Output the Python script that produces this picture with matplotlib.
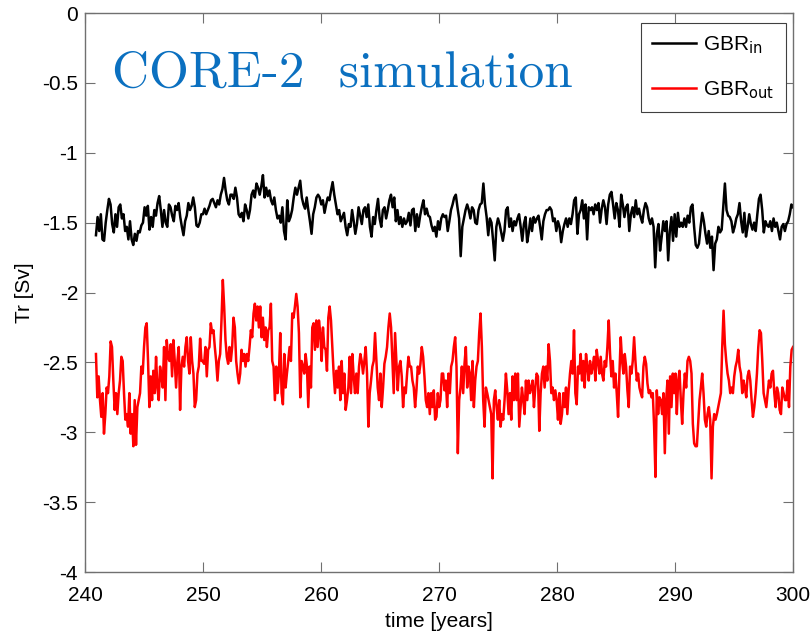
import numpy as np
import matplotlib
matplotlib.use("Agg")
import matplotlib.pyplot as plt

# Data (monthly-ish samples from year ~241 to 300)
t_start, t_end = 240.93, 300.0

gbr_in = [
    # 241-250
    -1.59, -1.46, -1.56, -1.44, -1.62, -1.63, -1.50, -1.41, -1.33, -1.37, -1.51, -1.57, -1.44,
    -1.53, -1.39, -1.37, -1.47, -1.44, -1.56, -1.53, -1.62, -1.49, -1.62, -1.66, -1.58, -1.63,
    -1.56, -1.57, -1.52, -1.50, -1.39, -1.45, -1.38, -1.55, -1.46, -1.53, -1.41, -1.45, -1.36,
    -1.31, -1.41, -1.53, -1.41, -1.50, -1.53, -1.37, -1.39, -1.45, -1.49, -1.38, -1.41, -1.36,
    -1.46, -1.53, -1.59, -1.49, -1.45, -1.36, -1.41, -1.38, -1.32, -1.39, -1.52, -1.53, -1.50,
    -1.44,
    # 250-259
    -1.44, -1.40, -1.44, -1.41, -1.38, -1.34, -1.33, -1.36, -1.39, -1.34, -1.37, -1.30, -1.26,
    -1.18, -1.27, -1.34, -1.37, -1.30, -1.30, -1.33, -1.25, -1.32, -1.44, -1.46, -1.43, -1.49,
    -1.37, -1.41, -1.47, -1.41, -1.30, -1.27, -1.32, -1.22, -1.25, -1.30, -1.24, -1.16, -1.32,
    -1.25, -1.31, -1.27, -1.34, -1.37, -1.32, -1.41, -1.47, -1.45, -1.50, -1.39, -1.56, -1.62,
    -1.34, -1.49, -1.46, -1.41, -1.32, -1.25, -1.30, -1.25, -1.20, -1.32, -1.37, -1.40, -1.32,
    -1.41, -1.49, -1.58, -1.44, -1.39, -1.32, -1.30,
    # 259-269
    -1.32, -1.37, -1.34, -1.43, -1.37, -1.32, -1.34, -1.27, -1.21, -1.30, -1.37, -1.44, -1.41,
    -1.49, -1.46, -1.43, -1.53, -1.59, -1.51, -1.53, -1.41, -1.49, -1.58, -1.51, -1.39, -1.45,
    -1.51, -1.41, -1.39, -1.46, -1.37, -1.53, -1.60, -1.46, -1.51, -1.41, -1.33, -1.47, -1.53,
    -1.41, -1.39, -1.47, -1.41, -1.34, -1.30, -1.39, -1.32, -1.49, -1.41, -1.51, -1.46, -1.53,
    -1.47, -1.51, -1.49, -1.43, -1.52, -1.41, -1.40, -1.56, -1.44, -1.53, -1.45, -1.39, -1.34,
    -1.44, -1.40, -1.45, -1.46, -1.52,
    # 269-279
    -1.56, -1.53, -1.60, -1.49, -1.55, -1.47, -1.44, -1.46, -1.45, -1.56, -1.49, -1.41, -1.37,
    -1.32, -1.30, -1.39, -1.47, -1.74, -1.53, -1.47, -1.41, -1.37, -1.41, -1.47, -1.39, -1.41,
    -1.50, -1.51, -1.41, -1.37, -1.36, -1.22, -1.37, -1.46, -1.59, -1.47, -1.50, -1.63, -1.77,
    -1.53, -1.47, -1.51, -1.57, -1.63, -1.56, -1.41, -1.39, -1.53, -1.47, -1.56, -1.49, -1.52,
    -1.47, -1.44, -1.53, -1.63, -1.51, -1.46, -1.64, -1.57, -1.47, -1.56, -1.46, -1.50, -1.47,
    -1.45, -1.53, -1.62, -1.49, -1.44, -1.41,
    # 279-289
    -1.41, -1.39, -1.41, -1.49, -1.47, -1.56, -1.49, -1.53, -1.64, -1.56, -1.51, -1.47, -1.53,
    -1.47, -1.51, -1.44, -1.34, -1.32, -1.58, -1.44, -1.41, -1.34, -1.47, -1.37, -1.62, -1.39,
    -1.41, -1.39, -1.44, -1.37, -1.41, -1.36, -1.50, -1.40, -1.34, -1.39, -1.51, -1.37, -1.30,
    -1.28, -1.37, -1.47, -1.36, -1.41, -1.53, -1.30, -1.37, -1.46, -1.39, -1.37, -1.56, -1.44,
    -1.39, -1.46, -1.34, -1.44, -1.40, -1.46, -1.50, -1.41, -1.36, -1.39, -1.47, -1.51, -1.47,
    -1.53, -1.82, -1.58, -1.51, -1.70, -1.60,
    # 289-300
    -1.49, -1.56, -1.49, -1.77, -1.56, -1.46, -1.63, -1.44, -1.60, -1.43, -1.53, -1.50, -1.53,
    -1.47, -1.53, -1.45, -1.50, -1.39, -1.37, -1.53, -1.66, -1.68, -1.65, -1.53, -1.43, -1.49,
    -1.58, -1.65, -1.56, -1.68, -1.60, -1.84, -1.65, -1.62, -1.53, -1.57, -1.55, -1.38, -1.22,
    -1.41, -1.45, -1.46, -1.49, -1.57, -1.53, -1.47, -1.44, -1.36, -1.49, -1.57, -1.43, -1.60,
    -1.53, -1.44, -1.51, -1.55, -1.50, -1.56, -1.44, -1.33, -1.30, -1.41, -1.57, -1.49, -1.52,
    -1.53, -1.49, -1.56, -1.47, -1.53, -1.50, -1.56, -1.62, -1.53, -1.51, -1.56, -1.51, -1.49,
    -1.44, -1.37, -1.39,
]

gbr_out = [
    # 241-250
    -2.44, -2.75, -2.60, -2.77, -2.89, -2.72, -3.01, -2.87, -2.68, -2.72, -2.60, -2.35, -2.39,
    -2.63, -2.84, -2.72, -2.87, -2.72, -2.63, -2.46, -2.49, -2.72, -2.91, -2.87, -2.96, -2.72,
    -3.01, -2.87, -3.10, -2.77, -3.09, -2.82, -2.77, -2.72, -2.53, -2.58, -2.39, -2.25, -2.22,
    -2.49, -2.82, -2.60, -2.77, -2.56, -2.72, -2.46, -2.68, -2.77, -2.53, -2.60, -2.68, -2.39,
    -2.77, -2.34, -2.46, -2.49, -2.37, -2.60, -2.34, -2.49, -2.68, -2.49, -2.39, -2.84, -2.53,
    -2.46, -2.53, -2.39, -2.32, -2.49, -2.58, -2.32, -2.49, -2.58, -2.82, -2.77, -2.58, -2.53,
    -2.33, -2.49,
    # 250-259
    -2.49, -2.51, -2.39, -2.60, -2.41, -2.39, -2.22, -2.29, -2.27, -2.39, -2.49, -2.63, -2.49,
    -2.44, -2.20, -1.91, -2.10, -2.34, -2.46, -2.51, -2.39, -2.49, -2.39, -2.18, -2.25, -2.49,
    -2.58, -2.65, -2.58, -2.41, -2.49, -2.44, -2.53, -2.44, -2.49, -2.39, -2.27, -2.32, -2.15,
    -2.08, -2.20, -2.10, -2.25, -2.10, -2.32, -2.18, -2.34, -2.25, -2.39, -2.27, -2.25, -2.08,
    -2.49, -2.53, -2.77, -2.53, -2.72, -2.58, -2.29, -2.72, -2.80, -2.44, -2.68, -2.58, -2.49,
    -2.39, -2.49, -2.15, -2.18, -2.10, -2.01, -2.10, -2.29, -2.75, -2.49, -2.53, -2.58, -2.44,
    -2.53, -2.82, -2.53, -2.68, -2.25, -2.22, -2.41, -2.20,
    # 259-269
    -2.39, -2.20, -2.29, -2.49, -2.25, -2.39, -2.41, -2.56, -2.18, -2.10, -2.20, -2.39, -2.58,
    -2.72, -2.56, -2.68, -2.53, -2.77, -2.49, -2.72, -2.58, -2.84, -2.77, -2.68, -2.46, -2.72,
    -2.44, -2.60, -2.72, -2.58, -2.72, -2.53, -2.44, -2.49, -2.58, -2.49, -2.39, -2.58, -2.96,
    -2.72, -2.63, -2.53, -2.49, -2.29, -2.49, -2.68, -2.77, -2.58, -2.82, -2.68, -2.51, -2.46,
    -2.39, -2.25, -2.15, -2.25, -2.49, -2.72, -2.29, -2.49, -2.70, -2.53, -2.49, -2.60, -2.82,
    -2.68, -2.72, -2.58, -2.46, -2.53, -2.53, -2.63, -2.68, -2.82, -2.70, -2.53, -2.58, -2.51,
    -2.39, -2.46, -2.60, -2.77, -2.82, -2.72, -2.87, -2.72,
    # 269-279
    -2.82, -2.70, -2.91, -2.89, -2.72, -2.82, -2.77, -2.58, -2.58, -2.70, -2.63, -2.82, -2.58,
    -2.72, -2.53, -2.49, -2.39, -2.32, -2.53, -3.15, -2.77, -2.68, -2.53, -2.72, -2.51, -2.39,
    -2.68, -2.53, -2.58, -2.77, -2.49, -2.82, -2.63, -2.53, -2.49, -2.29, -2.15, -2.39, -2.77,
    -2.96, -2.68, -2.72, -2.77, -2.82, -2.87, -3.33, -2.77, -2.70, -2.82, -2.91, -2.77, -2.96,
    -2.87, -2.91, -2.77, -2.58, -2.70, -2.87, -2.72, -2.91, -2.60, -2.77, -2.58, -2.77, -2.58,
    -2.96, -2.82, -2.68, -2.77, -2.87, -2.63, -2.77, -2.63, -2.72, -2.68, -2.63, -2.82, -2.68,
    -2.58, -2.60, -2.99, -2.72, -2.58, -2.53, -2.68, -2.53,
    # 279-289
    -2.63, -2.37, -2.49, -2.72, -2.68, -2.77, -2.70, -2.77, -2.91, -2.72, -2.94, -2.87, -2.72,
    -2.82, -2.68, -2.87, -2.70, -2.58, -2.49, -2.58, -2.27, -2.72, -2.80, -2.53, -2.58, -2.44,
    -2.63, -2.49, -2.68, -2.44, -2.53, -2.63, -2.49, -2.58, -2.53, -2.46, -2.63, -2.41, -2.49,
    -2.58, -2.46, -2.58, -2.63, -2.49, -2.53, -2.39, -2.20, -2.44, -2.60, -2.49, -2.68, -2.58,
    -2.72, -2.89, -2.58, -2.32, -2.49, -2.58, -2.44, -2.53, -2.70, -2.82, -2.53, -2.58, -2.49,
    -2.32, -2.49, -2.63, -2.58, -2.68, -2.72, -2.75, -2.53, -2.46, -2.51, -2.65, -2.72, -2.70,
    -2.75, -2.72, -2.96, -3.32, -2.70, -2.87, -2.75, -2.77,
    # 289-300
    -2.87, -2.72, -3.15, -2.77, -2.63, -3.01, -2.60, -2.82, -2.58, -2.72, -2.58, -2.87, -2.63,
    -2.56, -2.77, -2.94, -2.72, -2.58, -2.68, -2.49, -2.46, -2.49, -2.58, -2.94, -3.08, -3.10,
    -3.10, -2.94, -2.77, -2.68, -2.58, -2.72, -2.91, -2.96, -2.87, -2.82, -2.91, -3.33, -2.96,
    -2.87, -2.91, -2.87, -2.82, -2.77, -2.72, -2.39, -2.13, -2.37, -2.49, -2.58, -2.63, -2.72,
    -2.68, -2.72, -2.60, -2.53, -2.49, -2.41, -2.53, -2.58, -2.72, -2.63, -2.68, -2.75, -2.60,
    -2.56, -2.63, -2.77, -2.89, -2.82, -2.72, -2.58, -2.39, -2.27, -2.29, -2.49, -2.72, -2.77,
    -2.82, -2.72, -2.63, -2.68, -2.58, -2.56, -2.72, -2.82, -2.68, -2.72, -2.84, -2.87, -2.68,
    -2.72, -2.77, -2.77, -2.63, -2.82, -2.53, -2.41, -2.39,
]

t_in = np.linspace(t_start, t_end, len(gbr_in))
t_out = np.linspace(t_start, t_end, len(gbr_out))

xticks = [240, 250, 260, 270, 280, 290, 300]
yticks = [0, -0.5, -1, -1.5, -2, -2.5, -3, -3.5, -4]

plt.rcParams['font.family'] = ['Liberation Sans', 'DejaVu Sans']

fig = plt.figure(figsize=(8.11, 6.35), dpi=100)
ax = fig.add_axes([0.1048, 0.0992, 0.8730, 0.8803])

ax.plot(t_in, gbr_in, color='black', lw=1.8, label='GBR$_{\\rm in}$')
ax.plot(t_out, gbr_out, color='#ff0000', lw=1.8, label='GBR$_{\\rm out}$')

ax.set_xlim(240, 300)
ax.set_ylim(-4, 0)
ax.set_xticks(xticks)
ax.set_yticks(yticks)
ax.set_yticklabels([('%g' % v) for v in yticks])
ax.tick_params(direction='in', length=7, width=0.8, color='#707070',
               top=True, right=True, labelsize=15)
ax.tick_params(axis='x', pad=10)
ax.tick_params(axis='y', pad=5)
for s in ax.spines.values():
    s.set_color('#707070')
    s.set_linewidth(1.0)

ax.set_xlabel('time [years]', fontsize=15, labelpad=5)
ax.set_ylabel('Tr [Sv]', fontsize=15, labelpad=6)

ax.text(0.038, 0.868, 'CORE-2  simulation', transform=ax.transAxes,
        family='cmr10', fontsize=37, color='#0b70c0', va='baseline')

leg = ax.legend(loc='upper right', bbox_to_anchor=(0.990, 0.982), borderaxespad=0,
                fontsize=15, fancybox=False, framealpha=1, handlelength=2.1,
                handletextpad=0.35, borderpad=0.55, labelspacing=1.1)
leg.get_frame().set_edgecolor('#404040')
leg.get_frame().set_linewidth(0.8)

fig.savefig('out.png', dpi=100)
